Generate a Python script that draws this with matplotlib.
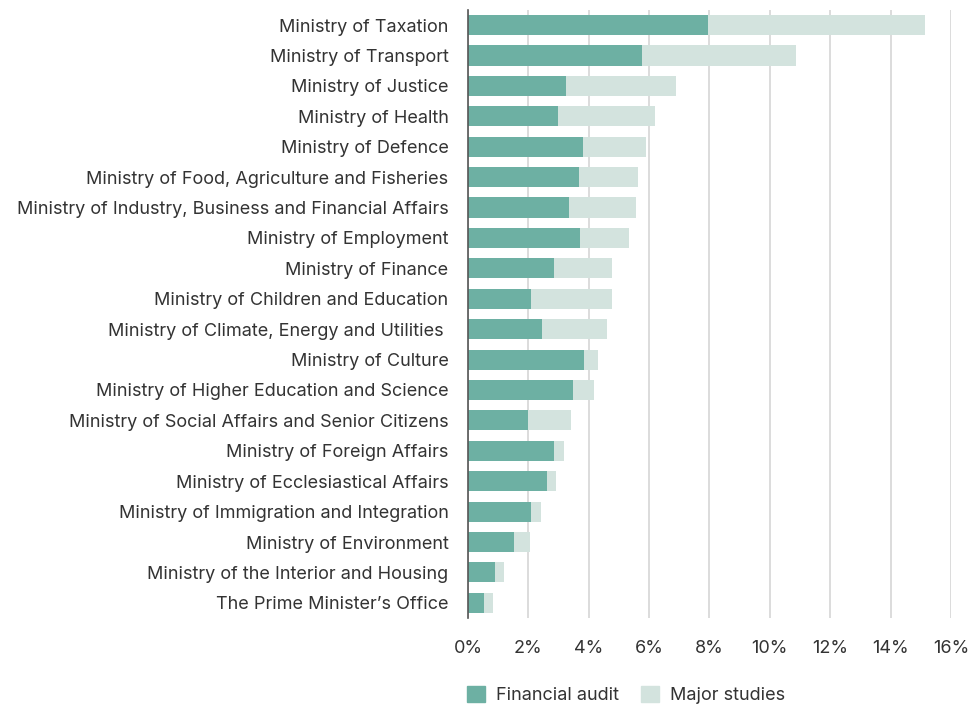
import matplotlib
matplotlib.use('Agg')
from matplotlib import pyplot as plt
from matplotlib.patches import Patch
from matplotlib.ticker import FuncFormatter


# Share of audit resources per ministry (%), top to bottom
ministries = [
    'Ministry of Taxation',
    'Ministry of Transport',
    'Ministry of Justice',
    'Ministry of Health',
    'Ministry of Defence',
    'Ministry of Food, Agriculture and Fisheries',
    'Ministry of Industry, Business and Financial Affairs',
    'Ministry of Employment',
    'Ministry of Finance',
    'Ministry of Children and Education',
    'Ministry of Climate, Energy and Utilities ',
    'Ministry of Culture',
    'Ministry of Higher Education and Science',
    'Ministry of Social Affairs and Senior Citizens',
    'Ministry of Foreign Affairs',
    'Ministry of Ecclesiastical Affairs',
    'Ministry of Immigration and Integration',
    'Ministry of Environment',
    'Ministry of the Interior and Housing',
    'The Prime Minister\u2019s Office',
]
financial_audit = [7.95, 5.76, 3.25, 2.97, 3.81, 3.69, 3.33, 3.71, 2.84, 2.09,
                   2.46, 3.84, 3.48, 1.98, 2.85, 2.62, 2.09, 1.52, 0.91, 0.53]
major_studies = [7.19, 5.09, 3.65, 3.21, 2.10, 1.93, 2.22, 1.62, 1.93, 2.68,
                 2.16, 0.46, 0.68, 1.42, 0.34, 0.29, 0.33, 0.53, 0.28, 0.30]

x_ticks = [0, 2, 4, 6, 8, 10, 12, 14, 16]

c_fin = '#6db0a3'
c_major = '#d3e3de'
c_text = '#333333'

plt.rcParams['font.family'] = ['Inter', 'DejaVu Sans']
plt.rcParams['font.size'] = 13

fig = plt.figure(figsize=(9.78, 7.06), dpi=100)
ax = fig.add_axes([0.4785, 0.1246, 0.9724 - 0.4785, 0.986 - 0.1246])

y = list(range(len(ministries)))
ax.barh(y, financial_audit, height=0.66, color=c_fin, zorder=3)
ax.barh(y, major_studies, left=financial_audit, height=0.66, color=c_major, zorder=3)

ax.set_ylim(len(ministries) - 0.5, -0.5)
ax.set_xlim(0, 16)
ax.set_yticks(y)
ax.set_yticklabels(ministries, color=c_text)
ax.set_xticks(x_ticks)
ax.xaxis.set_major_formatter(FuncFormatter(lambda v, p: '{:.0f}%'.format(v)))
ax.tick_params(axis='y', length=0, pad=14)
ax.tick_params(axis='x', length=0, pad=16, colors=c_text)

ax.grid(axis='x', color='#d9d9d9', linewidth=1.3, zorder=0)
for side in ['top', 'right', 'bottom']:
    ax.spines[side].set_visible(False)
ax.spines['left'].set_color('#555555')
ax.spines['left'].set_linewidth(1.2)
ax.spines['left'].set_zorder(4)

handles = [Patch(color=c_fin, label='Financial audit'),
           Patch(color=c_major, label='Major studies')]
fig.legend(handles=handles, loc='center left', bbox_to_anchor=(0.461, 0.016),
           ncol=2, frameon=False, handlelength=1.0, handleheight=1.0,
           handletextpad=0.6, columnspacing=1.2, labelcolor=c_text)

fig.savefig('out.png', dpi=100, facecolor='white')
